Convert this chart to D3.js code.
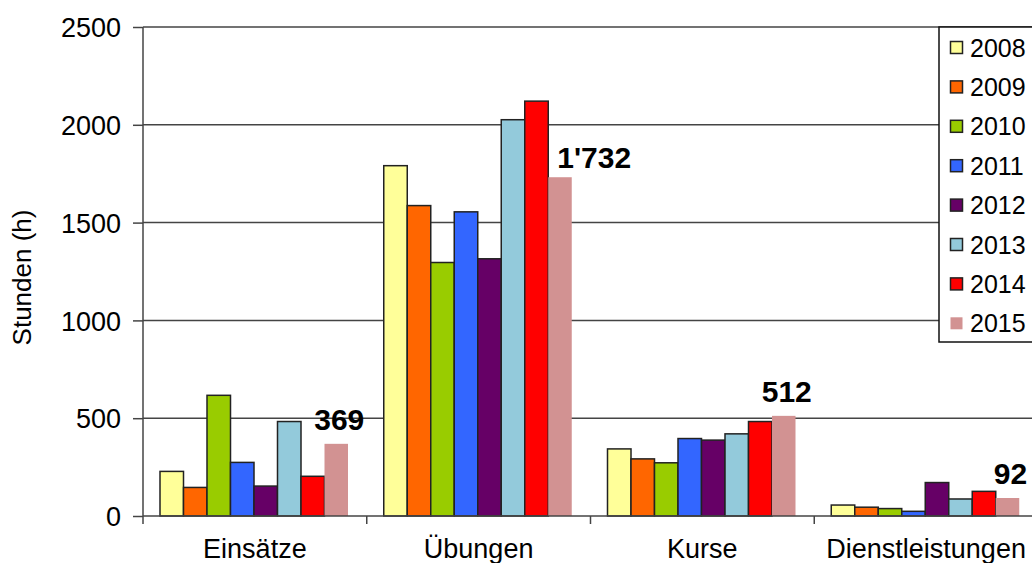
<!DOCTYPE html>
<html>
<head>
<meta charset="utf-8">
<script src="https://cdn.jsdelivr.net/npm/d3@7"></script>
<style>
  body { margin: 0; background: #fff; }
  svg { display: block; font-family: "Liberation Sans", Arial, sans-serif; }
</style>
</head>
<body>
<svg id="chart" width="1032" height="563"></svg>
<script>
var categories = ["Einsätze", "Übungen", "Kurse", "Dienstleistungen"];
var years = ["2008", "2009", "2010", "2011", "2012", "2013", "2014", "2015"];
var colors = ["#FFFF99", "#FF6600", "#99CC00", "#3366FF", "#660066", "#93CADB", "#FF0000", "#D29292"];

// hours per year, one array per category (same order as years)
var einsaetze = [228, 146, 617, 274, 153, 483, 203, 369];
var uebungen = [1791, 1587, 1296, 1555, 1315, 2026, 2121, 1732];
var kurse = [343, 292, 272, 396, 388, 420, 483, 512];
var dienstleistungen = [56, 45, 38, 24, 171, 87, 126, 92];
var values = [einsaetze, uebungen, kurse, dienstleistungen];

var yTicks = [0, 500, 1000, 1500, 2000, 2500];

var svg = d3.select("#chart");
// note: "top" is taken by window.top, so plot edges get their own names
var plotLeft = 143, plotRight = 1038, plotTop = 27, plotBottom = 516;

var x0 = d3.scaleBand().domain(categories).range([plotLeft, plotRight]);
var x1 = d3.scaleBand().domain(years).range([17, 205]);
var y = d3.scaleLinear().domain([0, 2500]).range([plotBottom, plotTop]);
var color = d3.scaleOrdinal().domain(years).range(colors);

var fmt = d3.formatLocale({ decimal: ".", thousands: "'", grouping: [3], currency: ["", ""] }).format(",d");

// gridlines
svg.append("g").selectAll("line")
  .data(yTicks.filter(function (d) { return d > 0; }))
  .join("line")
  .attr("x1", plotLeft).attr("x2", plotRight)
  .attr("y1", function (d) { return y(d); })
  .attr("y2", function (d) { return y(d); })
  .attr("stroke", "#444").attr("stroke-width", 1.5);

// y axis
var yAxis = svg.append("g")
  .attr("transform", "translate(" + plotLeft + ",0)")
  .call(d3.axisLeft(y).tickValues(yTicks).tickFormat(d3.format("d")).tickSize(10).tickPadding(12));
yAxis.select(".domain").remove();
yAxis.selectAll(".tick line").attr("stroke", "#444").attr("stroke-width", 1.5);
yAxis.selectAll(".tick text")
  .attr("font-size", 27).attr("font-family", "Liberation Sans, Arial, sans-serif")
  .attr("fill", "#000").attr("dy", "0.36em");

svg.append("text")
  .attr("transform", "translate(31," + ((plotTop + plotBottom) / 2 + 6) + ") rotate(-90)")
  .attr("text-anchor", "middle")
  .attr("font-size", 26)
  .text("Stunden (h)");

// bars
var groups = svg.append("g").selectAll("g")
  .data(categories)
  .join("g")
  .attr("transform", function (c) { return "translate(" + x0(c) + ",0)"; });

groups.selectAll("rect")
  .data(function (c, i) { return years.map(function (yr, j) { return { year: yr, value: values[i][j] }; }); })
  .join("rect")
  .attr("x", function (d) { return x1(d.year); })
  .attr("width", x1.bandwidth())
  .attr("y", function (d) { return y(d.value); })
  .attr("height", function (d) { return y(0) - y(d.value); })
  .attr("fill", function (d) { return color(d.year); })
  .attr("stroke", function (d) { return d.year === "2015" ? "none" : "#222"; })
  .attr("stroke-width", 1.5);

// value labels for the last year
groups.append("text")
  .each(function (c, i) {
    var row = values[i];
    var v = row[row.length - 1];
    var prev = row[row.length - 2];
    var bx = x1(years[years.length - 1]);
    var base = y(v) - 14;
    var t = d3.select(this)
      .attr("font-size", 30).attr("font-weight", "bold")
      .text(fmt(v));
    if (y(prev) < base) {
      // neighbour bar reaches into the label, push it to the right
      t.attr("x", bx + 9).attr("y", y(v) - 9).attr("text-anchor", "start");
    } else {
      t.attr("x", bx + x1.bandwidth() / 2 + 3).attr("y", base).attr("text-anchor", "middle");
    }
  });

// x axis
svg.append("line")
  .attr("x1", plotLeft).attr("x2", plotRight)
  .attr("y1", plotBottom).attr("y2", plotBottom)
  .attr("stroke", "#444").attr("stroke-width", 1.5);
svg.append("line")
  .attr("x1", plotLeft).attr("x2", plotLeft)
  .attr("y1", plotTop).attr("y2", plotBottom + 8)
  .attr("stroke", "#444").attr("stroke-width", 1.5);
svg.append("g").selectAll("line")
  .data(categories.slice(1))
  .join("line")
  .attr("x1", function (c) { return x0(c); })
  .attr("x2", function (c) { return x0(c); })
  .attr("y1", plotBottom).attr("y2", plotBottom + 8)
  .attr("stroke", "#444").attr("stroke-width", 1.5);
svg.append("g").selectAll("text")
  .data(categories)
  .join("text")
  .attr("x", function (c) { return x0(c) + x0.bandwidth() / 2; })
  .attr("y", 558)
  .attr("text-anchor", "middle")
  .attr("font-size", 27)
  .text(function (c) { return c; });

// legend
var legend = svg.append("g").attr("transform", "translate(939,27)");
legend.append("rect")
  .attr("x", 0).attr("y", 0).attr("width", 120).attr("height", 315)
  .attr("fill", "#fff").attr("stroke", "#111").attr("stroke-width", 1.5);
var item = legend.selectAll("g.item")
  .data(years)
  .join("g")
  .attr("class", "item")
  .attr("transform", function (d, i) { return "translate(0," + (20.5 + i * 39.4) + ")"; });
item.append("rect")
  .attr("x", 11.5).attr("y", -6).attr("width", 12).attr("height", 12)
  .attr("fill", function (d) { return color(d); })
  .attr("stroke", function (d) { return d === "2015" ? "none" : "#222"; })
  .attr("stroke-width", 1.5);
item.append("text")
  .attr("x", 31).attr("y", 9)
  .attr("font-size", 25)
  .text(function (d) { return d; });
</script>
</body>
</html>
